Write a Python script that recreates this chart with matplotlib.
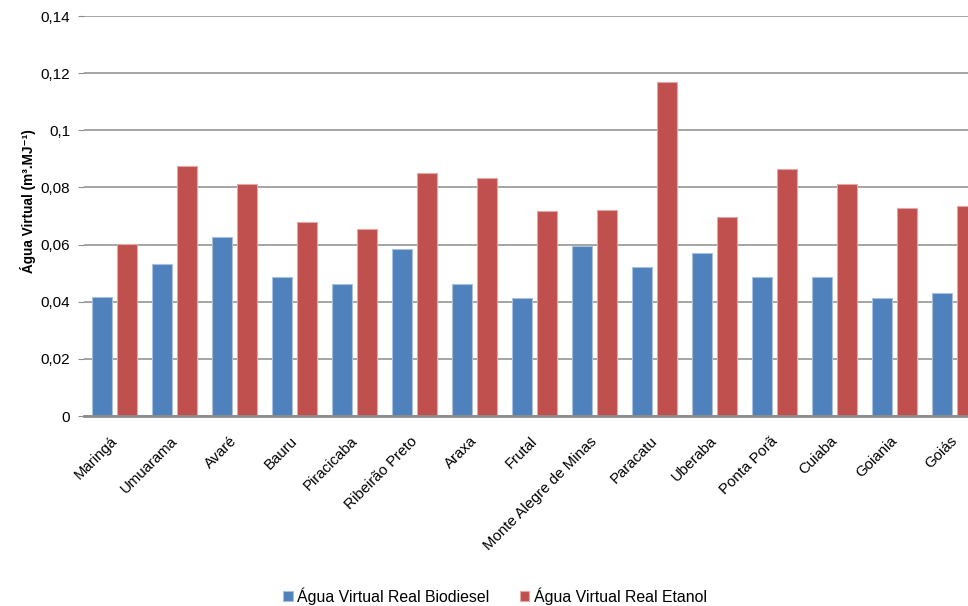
import numpy as np
import matplotlib.pyplot as plt
import matplotlib.transforms as mtransforms
from matplotlib.ticker import FuncFormatter

plt.rcParams['font.family'] = ['Liberation Sans', 'DejaVu Sans']

cidades = ["Maringá", "Umuarama", "Avaré", "Bauru", "Piracicaba", "Ribeirão Preto",
           "Araxa", "Frutal", "Monte Alegre de Minas", "Paracatu", "Uberaba",
           "Ponta Porã", "Cuiaba", "Goiania", "Goiás"]
biodiesel = [0.0415, 0.0533, 0.0625, 0.0487, 0.0462, 0.0583, 0.0462, 0.0412,
             0.0595, 0.0520, 0.0571, 0.0487, 0.0487, 0.0412, 0.0432]
etanol = [0.0601, 0.0874, 0.0811, 0.0679, 0.0655, 0.0852, 0.0832, 0.0718,
          0.0722, 0.1168, 0.0697, 0.0865, 0.0811, 0.0727, 0.0735]
yticks = [0, 0.02, 0.04, 0.06, 0.08, 0.1, 0.12, 0.14]

azul = "#4F81BD"
vermelho = "#C0504D"

fig = plt.figure(figsize=(9.68, 6.06), dpi=100)
# o grafico continua para alem da borda direita (ultima barra cortada)
ax = fig.add_axes([84 / 968, 1 - 416 / 606, 900 / 968, 400 / 606])

x = np.arange(len(cidades))
w = 0.33
ax.bar(x - 0.2, biodiesel, w, color=azul, edgecolor="#A7C0DE", linewidth=0.8,
       label="Água Virtual Real Biodiesel", zorder=3)
ax.bar(x + 0.21, etanol, w, color=vermelho, edgecolor="#E0A8A6", linewidth=0.8,
       label="Água Virtual Real Etanol", zorder=3)

ax.set_xlim(-0.5, len(cidades) - 0.5)
ax.set_ylim(0, 0.14)
ax.set_yticks(yticks)
ax.yaxis.set_major_formatter(FuncFormatter(lambda v, p: ("%g" % v).replace(".", ",")))
ax.yaxis.grid(True, color="#8C8C8C", linewidth=1.1, zorder=0)

ax.set_xticks(x)
ax.set_xticklabels(cidades, rotation=45, ha="right", rotation_mode="anchor")
ax.tick_params(axis="x", length=0, pad=13, labelsize=10.8)
ax.tick_params(axis="y", length=4, color="#8C8C8C", labelsize=11, pad=6)
# desloca os rotulos do eixo x um pouco para a esquerda
desloc = mtransforms.ScaledTranslation(-4 / 100, 0, fig.dpi_scale_trans)
for lbl in ax.get_xticklabels():
    lbl.set_transform(lbl.get_transform() + desloc)

for s in ["top", "right", "left"]:
    ax.spines[s].set_visible(False)
ax.spines["bottom"].set_color("#8C8C8C")
ax.spines["bottom"].set_linewidth(2)
ax.spines["bottom"].set_zorder(4)

ax.set_ylabel("Água Virtual (m³.MJ⁻¹)", fontweight="bold", fontsize=9.8)
ax.yaxis.set_label_coords((36 - 84) / 900, (416 - 201) / 400)

fig.legend(loc="center", bbox_to_anchor=(495 / 968, 1 - 596 / 606), ncol=2, frameon=False,
           fontsize=11.4, handlelength=0.6, handleheight=0.6, columnspacing=1.9,
           handletextpad=0.3)

fig.savefig("out.png", dpi=100)
